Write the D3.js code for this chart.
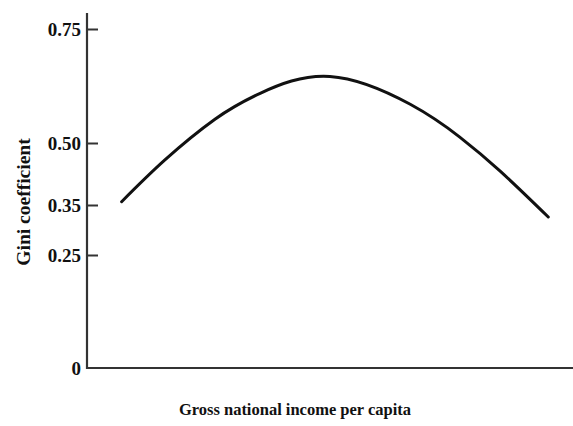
<!DOCTYPE html>
<html>
<head>
<meta charset="utf-8">
<script src="https://cdn.jsdelivr.net/npm/d3@7"></script>
<style>
  body { margin: 0; background: #fff; }
  text { font-family: "Liberation Serif", "DejaVu Serif", serif; font-weight: bold; }
</style>
</head>
<body>
<div id="chart"></div>
<script>
// income per capita (index 0-100 along the axis) and Gini values
var income = [7.2, 16.2, 26.6, 36.0, 50.5, 67.2, 77.5, 85.9, 95.9];
var gini = [0.358, 0.459, 0.552, 0.609, 0.646, 0.585, 0.513, 0.432, 0.326];
var tickValues = [0, 0.25, 0.35, 0.50, 0.75];
var tickLabels = ["0", "0.25", "0.35", "0.50", "0.75"];

function kuznetsChart() {
	var width = 573;
	var height = 426;

	var svg = d3.select("#chart").append("svg")
		.attr("width", width)
		.attr("height", height);

	var x = d3.scaleLinear().domain([0, 100]).range([87, 568]);
	// the printed axis is not quite even, so map it piecewise on its ticks
	var y = d3.scaleLinear().domain(tickValues).range([368, 255, 205, 143, 29]);

	var yAxis = d3.axisRight(y)
		.tickValues(tickValues)
		.tickSize(11)
		.tickFormat(function(d, i) { return tickLabels[i]; });

	var gy = svg.append("g").attr("transform", "translate(87,0)").call(yAxis);
	gy.select(".domain").remove();
	gy.selectAll(".tick line").attr("stroke", "#333").attr("stroke-width", 2);
	gy.selectAll(".tick text")
		.attr("x", -6)
		.attr("text-anchor", "end")
		.attr("font-size", 19)
		.attr("fill", "#111")
		.attr("dy", "0.35em");
	gy.selectAll(".tick").filter(function(d) { return d === 0; }).select("line").remove();

	// axis lines
	svg.append("line")
		.attr("x1", 87).attr("x2", 87)
		.attr("y1", 13).attr("y2", 369)
		.attr("stroke", "#333").attr("stroke-width", 2.2);
	svg.append("line")
		.attr("x1", 86).attr("x2", 573)
		.attr("y1", 368).attr("y2", 368)
		.attr("stroke", "#333").attr("stroke-width", 2.2);

	var line = d3.line()
		.x(function(d, i) { return x(income[i]); })
		.y(function(d) { return y(d); })
		.curve(d3.curveNatural);

	svg.append("path")
		.datum(gini)
		.attr("d", line)
		.attr("fill", "none")
		.attr("stroke", "#111")
		.attr("stroke-width", 3)
		.attr("stroke-linecap", "round");

	svg.append("text")
		.attr("x", 295)
		.attr("y", 415)
		.attr("text-anchor", "middle")
		.attr("font-size", 16.5)
		.attr("fill", "#111")
		.text("Gross national income per capita");

	svg.append("text")
		.attr("transform", "translate(30,202) rotate(-90)")
		.attr("text-anchor", "middle")
		.attr("font-size", 19.5)
		.attr("fill", "#111")
		.text("Gini coefficient");
}

kuznetsChart();
</script>
</body>
</html>
